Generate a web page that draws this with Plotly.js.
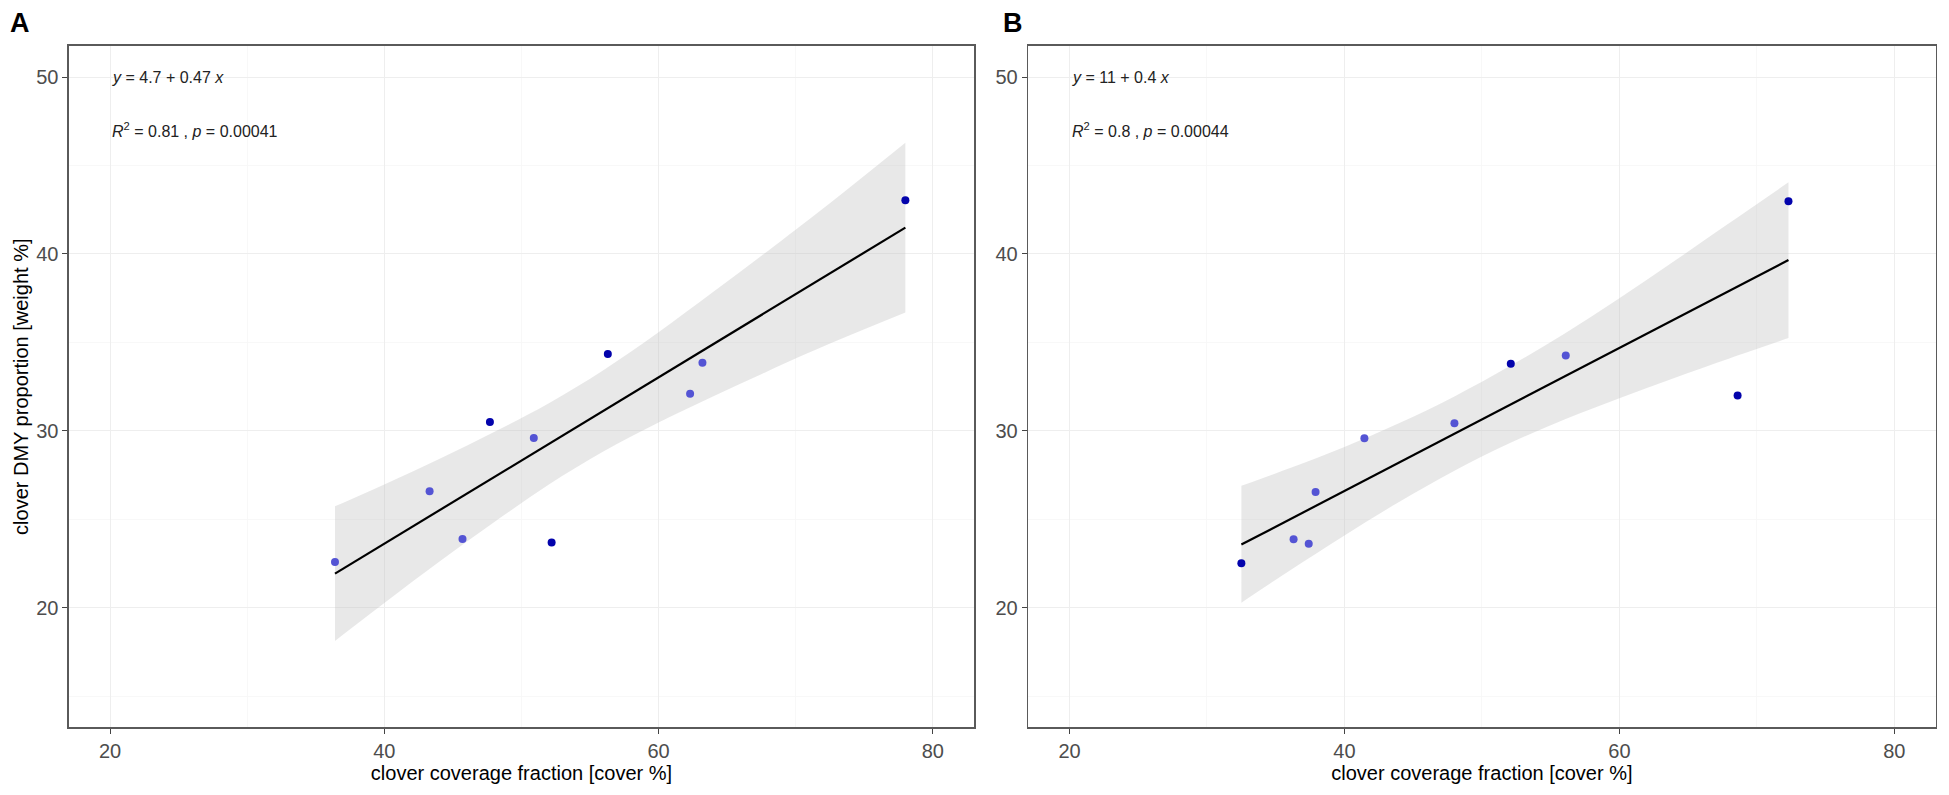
<!DOCTYPE html>
<html>
<head>
<meta charset="utf-8">
<script src="https://cdn.plot.ly/plotly-3.0.1.min.js"></script>
<style>
  html, body { margin: 0; padding: 0; background: #fff; }
  #chart { width: 1949px; height: 795px; }
</style>
</head>
<body>
<div id="chart"></div>
<script>
// Panel A: clover coverage (x) vs clover DMY proportion (y)
const xA = [36.4, 43.3, 45.7, 47.7, 50.9, 52.2, 56.3, 62.3, 63.2, 78.0];
const yA = [22.6, 26.6, 23.9, 30.5, 29.6, 23.7, 34.35, 32.1, 33.86, 43.03];
const groupA = [1, 1, 1, 2, 1, 2, 2, 1, 1, 2];
const fitXA = [36.4, 78.0];
const fitYA = [21.94, 41.49];
const bandXA = [36.4, 40, 44, 48, 52, 56, 60, 64, 68, 72, 78];
const bandLoA = [18.14, 20.28, 22.61, 24.84, 26.97, 28.85, 30.48, 31.96, 33.39, 34.77, 36.69];
const bandHiA = [25.74, 26.98, 28.41, 29.94, 31.57, 33.45, 35.58, 37.86, 40.19, 42.57, 46.29];

// Panel B
const xB = [32.5, 36.3, 37.4, 37.9, 41.45, 48.0, 52.1, 56.1, 68.6, 72.3];
const yB = [22.53, 23.88, 23.63, 26.55, 29.59, 30.43, 33.8, 34.27, 32.0, 42.98];
const groupB = [2, 1, 1, 1, 1, 1, 2, 1, 2, 2];
const fitXB = [32.5, 72.3];
const fitYB = [23.58, 39.66];
const bandXB = [32.5, 36, 40, 44, 48, 52, 56, 60, 64, 68, 72.3];
const bandLoB = [20.3, 22.1, 24.1, 26.0, 27.75, 29.3, 30.65, 31.85, 33.0, 34.1, 35.25];
const bandHiB = [26.9, 27.9, 29.1, 30.45, 31.95, 33.65, 35.5, 37.5, 39.6, 41.75, 44.05];

const equations = ['<i>y</i> = 4.7 + 0.47 <i>x</i>', '<i>y</i> = 11 + 0.4 <i>x</i>'];
const stats = ['<i>R</i><sup>2</sup> = 0.81 , <i>p</i> = 0.00041', '<i>R</i><sup>2</sup> = 0.8 , <i>p</i> = 0.00044'];
const panelLetters = ['A', 'B'];
const xTitle = 'clover coverage fraction [cover %]';
const yTitle = 'clover DMY proportion [weight %]';

const FONT = 'Liberation Sans, Arial, sans-serif';
const groupColors = { 1: '#5454D4', 2: '#0303AC' };

function panelTraces(xa, ya, x, y, grp, fx, fy, bx, blo, bhi) {
    return [
        { x: bx, y: blo, xaxis: xa, yaxis: ya, mode: 'lines', line: { width: 0, shape: 'spline' },
          hoverinfo: 'skip', showlegend: false },
        { x: bx, y: bhi, xaxis: xa, yaxis: ya, mode: 'lines', line: { width: 0, shape: 'spline' }, fill: 'tonexty',
          fillcolor: 'rgba(190,190,190,0.36)', hoverinfo: 'skip', showlegend: false },
        { x: fx, y: fy, xaxis: xa, yaxis: ya, mode: 'lines', line: { color: '#000', width: 2.2 }, showlegend: false },
        { x: x, y: y, xaxis: xa, yaxis: ya, mode: 'markers', showlegend: false,
          marker: { size: 8, color: grp.map(g => groupColors[g]) } },
    ];
}

function xAxis(domain, anchor) {
    return {
        domain: domain, anchor: anchor, range: [17, 83], tick0: 0, dtick: 20,
        showgrid: true, gridcolor: '#EEEEEE', gridwidth: 1,
        minor: { dtick: 10, showgrid: true, gridcolor: '#F6F6F6', gridwidth: 0.8 },
        zeroline: false, showline: true, mirror: true, linecolor: '#5A5A5A', linewidth: 1.6,
        ticks: 'outside', ticklen: 5, tickcolor: '#444', tickwidth: 1,
        tickfont: { family: FONT, size: 20, color: '#4D4D4D' },
        title: { text: xTitle, font: { family: FONT, size: 20, color: '#000' }, standoff: 4 },
        automargin: false,
    };
}

function yAxis(anchor, withTitle) {
    const ax = {
        domain: [0.0850, 0.9421], anchor: anchor, range: [13.25, 51.75], tick0: 0, dtick: 10,
        showgrid: true, gridcolor: '#EEEEEE', gridwidth: 1,
        minor: { dtick: 5, showgrid: true, gridcolor: '#F6F6F6', gridwidth: 0.8 },
        zeroline: false, showline: true, mirror: true, linecolor: '#5A5A5A', linewidth: 1.6,
        ticks: 'outside', ticklen: 5, tickcolor: '#444', tickwidth: 1,
        tickfont: { family: FONT, size: 20, color: '#4D4D4D' },
        automargin: false,
    };
    if (withTitle) ax.title = { text: yTitle, font: { family: FONT, size: 20, color: '#000' }, standoff: 2 };
    return ax;
}

const data = [].concat(
    panelTraces('x', 'y', xA, yA, groupA, fitXA, fitYA, bandXA, bandLoA, bandHiA),
    panelTraces('x2', 'y2', xB, yB, groupB, fitXB, fitYB, bandXB, bandLoB, bandHiB)
);

const annotations = [];
[['x', 'y'], ['x2', 'y2']].forEach(([xr, yr], i) => {
    annotations.push({ xref: xr, yref: yr, x: 20, y: 50, text: equations[i], showarrow: false,
        xanchor: 'left', yanchor: 'middle', font: { family: FONT, size: 16, color: '#222' } });
    annotations.push({ xref: xr, yref: yr, x: 20, y: 47, text: stats[i], showarrow: false,
        xanchor: 'left', yanchor: 'middle', font: { family: FONT, size: 16, color: '#222' } });
});
annotations.push({ xref: 'paper', yref: 'paper', x: 0.004, y: 0.992, text: '<b>' + panelLetters[0] + '</b>',
    showarrow: false, xanchor: 'left', yanchor: 'top', font: { family: FONT, size: 27, color: '#000' } });
annotations.push({ xref: 'paper', yref: 'paper', x: 0.5135, y: 0.992, text: '<b>' + panelLetters[1] + '</b>',
    showarrow: false, xanchor: 'left', yanchor: 'top', font: { family: FONT, size: 27, color: '#000' } });

const layout = {
    width: 1949, height: 795,
    margin: { l: 0, r: 0, t: 0, b: 0 },
    paper_bgcolor: '#fff', plot_bgcolor: '#fff',
    font: { family: FONT },
    xaxis: xAxis([0.0354, 0.4997], 'y'),
    yaxis: yAxis('x', true),
    xaxis2: xAxis([0.5276, 0.9931], 'y2'),
    yaxis2: yAxis('x2', false),
    annotations: annotations,
    showlegend: false,
};

Plotly.newPlot('chart', data, layout, { displayModeBar: false, staticPlot: true });
</script>
</body>
</html>
